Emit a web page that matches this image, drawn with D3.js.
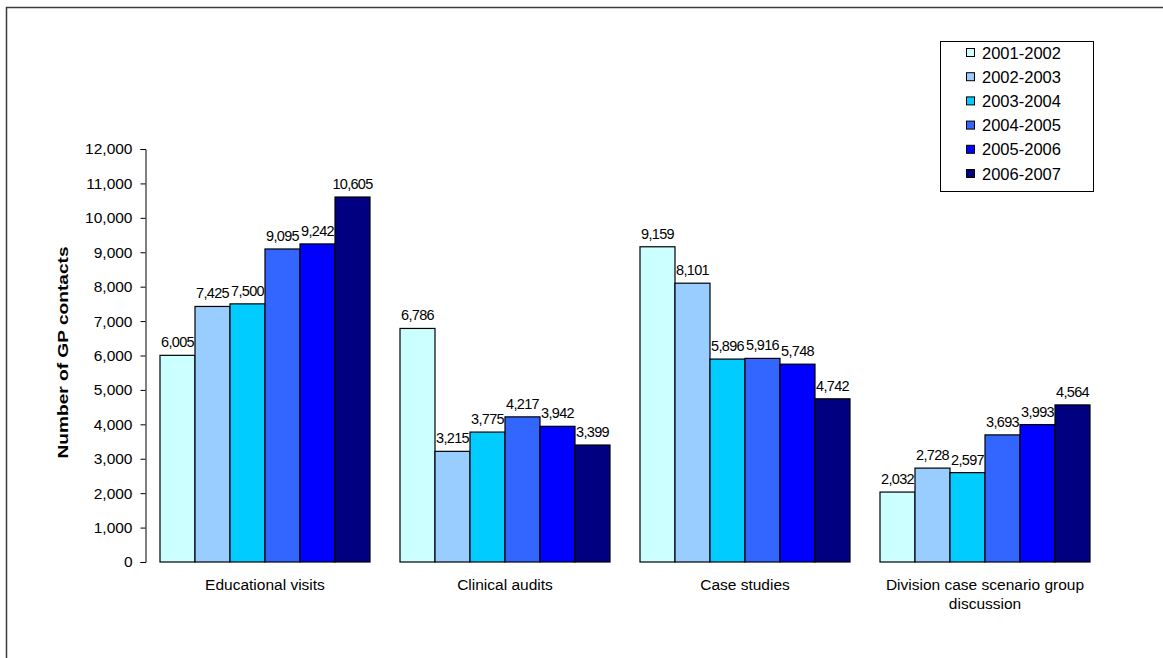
<!DOCTYPE html>
<html>
<head>
<meta charset="utf-8">
<script src="https://cdn.jsdelivr.net/npm/d3@7"></script>
<style>
  html, body { margin: 0; padding: 0; background: #fff; }
  svg text { font-family: Arial, "Liberation Sans", sans-serif; fill: #000; }
</style>
</head>
<body>
<svg id="chart" width="1163" height="658"></svg>
<script>
// GP contacts by activity type and financial year
const categories = ["Educational visits", "Clinical audits", "Case studies", "Division case scenario group discussion"];
const years = ["2001-2002", "2002-2003", "2003-2004", "2004-2005", "2005-2006", "2006-2007"];
const colors = ["#CCFFFF", "#99CCFF", "#00CCFF", "#3366FF", "#0000FF", "#000080"];
const v2001 = [6005, 6786, 9159, 2032];
const v2002 = [7425, 3215, 8101, 2728];
const v2003 = [7500, 3775, 5896, 2597];
const v2004 = [9095, 4217, 5916, 3693];
const v2005 = [9242, 3942, 5748, 3993];
const v2006 = [10605, 3399, 4742, 4564];
const seriesValues = [v2001, v2002, v2003, v2004, v2005, v2006];
const yTicks = [0, 1000, 2000, 3000, 4000, 5000, 6000, 7000, 8000, 9000, 10000, 11000, 12000];
const yTitle = "Number of GP contacts";

const svg = d3.select("#chart");
const fmt = d3.format(",");

// outer chart frame
svg.append("rect")
  .attr("x", 6.5).attr("y", 7.5)
  .attr("width", 1200).attr("height", 700)
  .attr("fill", "none").attr("stroke", "#3a3a3a").attr("stroke-width", 1.5);

const plot = { left: 145, right: 1105, top: 149, bottom: 562 };

const x0 = d3.scaleBand().domain(categories).range([plot.left, plot.right]).paddingInner(0.125).paddingOuter(0.0625);
const x1 = d3.scaleBand().domain(years).range([0, x0.bandwidth()]);
const y = d3.scaleLinear().domain([0, 12000]).range([plot.bottom, plot.top]);

// y axis
const yAxis = d3.axisLeft(y).tickValues(yTicks).tickFormat(fmt).tickSizeOuter(0).tickSize(5).tickPadding(8);
const gy = svg.append("g").attr("transform", `translate(${plot.left + 0.5},0)`).call(yAxis);
gy.select(".domain").attr("stroke", "#000");
gy.selectAll(".tick line").attr("stroke", "#000");
gy.selectAll(".tick text").attr("font-size", 15.5).attr("fill", "#000");

// y title
svg.append("text")
  .attr("transform", `translate(68,${(plot.top + plot.bottom) / 2 - 3}) rotate(-90)`)
  .attr("text-anchor", "middle")
  .attr("font-size", 15).attr("font-weight", "bold")
  .attr("textLength", 212).attr("lengthAdjust", "spacingAndGlyphs")
  .text(yTitle);

// bars
const rows = [];
categories.forEach((c, ci) => {
  years.forEach((yr, si) => rows.push({ cat: c, year: yr, si, value: seriesValues[si][ci] }));
});

const bars = svg.append("g");
bars.selectAll("rect").data(rows).join("rect")
  .attr("x", d => x0(d.cat) + x1(d.year))
  .attr("y", d => y(d.value))
  .attr("width", x1.bandwidth())
  .attr("height", d => y(0) - y(d.value))
  .attr("fill", d => colors[d.si])
  .attr("stroke", "#000").attr("stroke-width", 1.2);

// value labels
svg.append("g").selectAll("text").data(rows).join("text")
  .attr("x", d => x0(d.cat) + x1(d.year) + x1.bandwidth() / 2)
  .attr("y", d => y(d.value) - 8)
  .attr("text-anchor", "middle")
  .attr("font-size", 14.5).attr("letter-spacing", -0.7)
  .text(d => fmt(d.value));

// category labels with wrapping
const catG = svg.append("g");
categories.forEach(c => {
  const cx = x0(c) + x0.bandwidth() / 2;
  const t = catG.append("text")
    .attr("x", cx)
    .attr("y", 590)
    .attr("text-anchor", "middle")
    .attr("font-size", 15.5);
  const words = c.split(" ");
  let line = [];
  let tspan = t.append("tspan").attr("x", cx).attr("dy", 0);
  words.forEach(w => {
    line.push(w);
    tspan.text(line.join(" "));
    if (tspan.node().getComputedTextLength() > 228 && line.length > 1) {
      line.pop();
      tspan.text(line.join(" "));
      line = [w];
      tspan = t.append("tspan").attr("x", cx).attr("dy", 19).text(w);
    }
  });
});

// legend
const legend = svg.append("g");
legend.append("rect")
  .attr("x", 940.5).attr("y", 41.5).attr("width", 153).attr("height", 150)
  .attr("fill", "#fff").attr("stroke", "#000").attr("stroke-width", 1);
years.forEach((yr, i) => {
  const cy = 53 + i * 24.2;
  legend.append("rect")
    .attr("x", 966.5).attr("y", cy - 4.5).attr("width", 8).attr("height", 8)
    .attr("fill", colors[i]).attr("stroke", "#000").attr("stroke-width", 1);
  legend.append("text")
    .attr("x", 982).attr("y", cy + 5.5)
    .attr("font-size", 16.5)
    .text(yr);
});
</script>
</body>
</html>
